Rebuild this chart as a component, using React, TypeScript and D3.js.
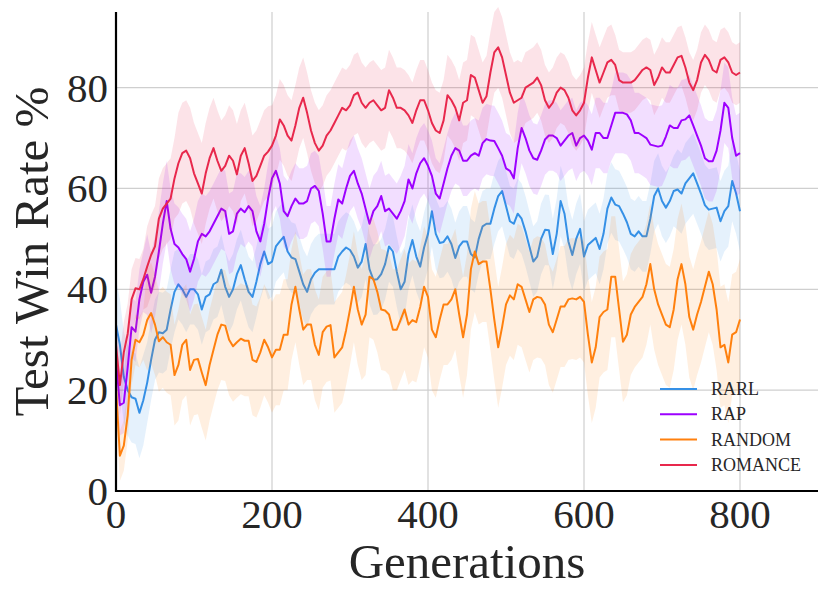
import React from 'react';
import * as d3 from 'd3';

// generations sampled every 5 steps, 0..800
const generations = d3.range(0, 801, 5);

const romance = [
  29, 21, 27.5, 31.2, 38, 40.2, 40, 42, 44.5, 46.8, 48.5,
  54, 56, 57, 58, 62, 65, 67, 67.5, 66, 63,
  61, 59, 63, 66, 68, 65.5, 63.5, 64.5, 66.5, 65.5,
  62.8, 66.5, 68, 65, 61.5, 62.5, 64.5, 66.5, 67.3, 68.5,
  70.5, 73.7,
  72.5, 70.5, 69.5, 72.5, 76, 78, 75, 71.5, 69, 67.5,
  68.5, 70.5, 71.5, 73, 74.5, 76, 75.5, 76.5, 78.5, 79,
  77, 76, 77, 77.5, 76.5, 75.5, 76, 79.5, 78, 76,
  76, 75.5, 74.5, 73, 75.5, 77.5, 77.5, 75.5, 73,
  71.5, 71, 73.5, 78.5, 77.5, 76, 73.5, 77, 77.5, 82.5,
  82, 79.5, 77, 78.3, 83, 87, 88, 86, 82.5, 79,
  77, 77.5, 78, 80, 80.5, 81, 82, 80.5, 77.5, 76,
  77, 79, 80, 79.5, 78, 75.5, 74.5, 75.5, 77,
  82, 86, 83.5, 81, 83, 85, 85.5, 84.5, 81.5, 81,
  81, 81, 81.5, 82.5, 83.5, 84, 83.5, 80.5, 82, 84,
  83, 83, 84.5, 86, 86.3, 84, 81, 79.5, 81.5, 85,
  86.5, 85.5, 83.5, 83, 85.5, 86, 85, 83, 82.5, 83,
];

const rap = [
  26, 17, 17.5, 24.5, 32.5, 31.6, 38, 41.5, 42.9, 39.3, 42.5, 47.5, 53,
  57.5, 52, 49, 48.3, 47, 46, 43.5, 46, 49.5, 51,
  50.5, 51.5, 53, 54.5, 56, 55.5, 51, 51.5, 55, 56,
  55.3, 56.5, 55.5, 51.5, 49.5, 53, 58, 62, 63.5, 61,
  55.5, 54.5, 56.5, 58, 57, 57, 57.5, 60, 60.5, 59.5,
  55, 49.5, 49.5, 54, 57.8, 57, 60, 62.5, 63.5, 61,
  59, 56, 53, 55.5, 56.5, 58.5, 55.5, 56, 55, 54,
  55.5, 57.5, 61.8, 60, 63, 65, 66, 64.5, 62.5,
  59, 58, 61, 64, 66.5, 68, 67.5, 65.5, 65.5, 66.5,
  67, 66.5, 69, 69.8, 69.5, 69.4, 68, 66.5, 64, 63.5,
  62, 68, 72, 70, 67.5, 66, 65.7, 67.5, 69.7, 70.5,
  70.5, 70, 68.5, 69.5, 70.5, 71, 68.5, 70, 70.5,
  69.5, 67.7, 71, 71, 70, 70, 72.5, 75, 75, 75,
  74.7, 73.5, 71, 71, 70.5, 70, 68.7, 68.5, 68.3, 68.5,
  70.3, 72.5, 72, 72, 73.5, 73.7, 74.5, 72.5, 70.5, 68.5,
  66, 65.4, 65.4, 67.5, 71.5, 77, 76, 70, 66.5, 67,
];

const rarl = [
  33, 29, 22.6, 20, 18.6, 18.3, 15.5, 18, 21.5, 26, 30, 31.5, 31.3, 32, 36,
  39.5, 41, 40, 38.5, 40, 40, 39, 36, 38.5, 39,
  41, 41.5, 43.9, 40.5, 38.5, 40, 43, 44.8, 42, 39.5,
  38.5, 41.5, 45, 47.5, 45, 45.5, 48.5, 49.5,
  50.4, 47.5, 46.3, 46, 43.5, 41, 39.5, 42, 43.3, 44,
  44, 44, 44, 44, 46.5, 47.5, 48.3, 47.8, 46.5, 44.3,
  45.5, 49, 44, 41.9, 42, 43, 45, 48.5, 47.5, 43.5,
  40, 41.5, 47, 49.8, 46.5, 44.5, 48.3, 51, 55.5,
  51, 49.2, 49.4, 50.5, 49, 46.2, 48.5, 49.5, 49.5, 47,
  46.3, 50, 52.5, 53, 53, 56, 58.5, 59.5, 56.5, 53.5,
  53, 55, 54, 51.5, 48.5, 45.5, 46.5, 50, 51.8, 51.7,
  47, 51, 57.5, 55, 49.5, 46.8, 50, 52, 46.5,
  48.8, 49.5, 50.2, 48, 51, 56, 58.2, 56.8, 56.5, 55,
  53.3, 51, 50.5, 51.5, 50.5, 50.5, 54, 58.5, 60, 57.5,
  56.2, 57.5, 59.5, 59.8, 59, 61, 62, 63, 61, 59,
  56.7, 55.8, 56, 56.2, 53.5, 55.5, 56.5, 61.5, 59, 55.5,
];

const random = [
  20.5, 7, 9, 15, 26, 30, 29.5, 31, 33.9, 35.3, 33, 29.7, 30.5, 29.5, 29,
  23, 25, 29, 30, 24, 26, 26.2, 23.5, 21, 25,
  28, 31, 33, 32.8, 30, 28.7, 29.5, 30.2, 29.8, 29.8,
  26, 25.6, 27.5, 30, 28.5, 26.5, 28, 28,
  31, 31, 37, 40.5, 36, 32, 33, 33, 29, 27,
  31.5, 32.6, 32.9, 26.5, 27.5, 28.5, 31.9, 36, 40.5, 36,
  33, 35, 42.5, 42, 39.5, 36, 35.8, 35, 32, 32,
  34, 36, 33, 33.9, 33.5, 36.5, 40.5, 38.5, 32,
  30.5, 34, 37, 37, 38, 40, 35, 30.5, 35, 44,
  47.5, 45, 45.5, 45.5, 40, 34, 28.5, 32.5, 37, 38.8,
  38, 41, 40.5, 38, 35.5, 38, 38.5, 38.3, 37, 33,
  31.5, 34, 36.6, 36.6, 38, 38.2, 38, 38.5, 37.5,
  31, 25.5, 28.5, 34.5, 35.5, 36, 42.5, 42.5, 36, 29.6,
  31, 35, 36.5, 37.5, 38.5, 41, 45, 40, 37, 35,
  33, 32.5, 36, 42, 45, 41, 34.5, 32, 35, 37.5,
  40.5, 43.5, 41, 36, 28.5, 29, 25.5, 31, 31.5, 34,
];

// band half-width per 40-generation block
const romanceSpread = [6, 8, 10, 10, 9, 8, 8, 8, 8, 8, 8, 8, 8, 7, 7, 7, 6, 6, 6, 6, 6];
const rapSpread = [6, 8, 8, 8, 7, 7, 7, 7, 7, 7, 7, 7, 7, 7, 7, 7, 8, 8, 8, 8, 8];
const rarlSpread = [9, 8, 7, 7, 7, 7, 7, 7, 7, 7, 7, 7, 7, 7, 7, 7, 7, 7, 8, 8, 8];
const randomSpread = [5, 10, 11, 11, 11, 11, 11, 11, 12, 12, 12, 12, 12, 12, 12, 12, 12, 12, 12, 12, 12];

const xTicks = [0, 200, 400, 600, 800];
const yTicks = [0, 20, 40, 60, 80];
const yGrid = [20, 40, 60, 80];

const series = [
  { name: 'RARL', values: rarl, spread: rarlSpread, color: '#3590e6' },
  { name: 'RAP', values: rap, spread: rapSpread, color: '#9d00ff' },
  { name: 'RANDOM', values: random, spread: randomSpread, color: '#ff800e' },
  { name: 'ROMANCE', values: romance, spread: romanceSpread, color: '#e8284c' },
];

const W = 830;
const H = 603;
const left = 116;
const right = 818;
const top = 12;
const bottom = 491;
const font = '"Liberation Serif", "Times New Roman", serif';
const textColor = '#262626';

export default function App() {
  const x = d3.scaleLinear().domain([0, 900]).range([left, right]);
  const y = d3.scaleLinear().domain([0, 95]).range([bottom, top]);

  const line = d3
    .line<number>()
    .x((_, i) => x(generations[i]))
    .y((d) => y(d));

  const area = (values: number[], spread: number[]) =>
    d3
      .area<number>()
      .x((_, i) => x(generations[i]))
      .y0((d, i) => y(Math.max(0, d - spread[Math.floor(generations[i] / 40)])))
      .y1((d, i) => y(d + spread[Math.floor(generations[i] / 40)]))(values) || '';

  return (
    <svg
      width={W}
      height={H}
      style={{ position: 'absolute', left: 0, top: 0, background: '#fff' }}
      fontFamily={font}
    >
      {/* grid */}
      {yGrid.map((t) => (
        <line key={'gy' + t} x1={left} x2={right} y1={y(t)} y2={y(t)} stroke="#cfcfcf" strokeWidth={1.2} />
      ))}
      {xTicks.filter((t) => t > 0).map((t) => (
        <line key={'gx' + t} x1={x(t)} x2={x(t)} y1={top} y2={bottom} stroke="#cfcfcf" strokeWidth={1.2} />
      ))}

      {/* bands and lines */}
      {series.map((s) => (
        <g key={s.name}>
          <path d={area(s.values, s.spread)} fill={s.color} fillOpacity={0.13} stroke="none" />
          <path d={line(s.values) || ''} fill="none" stroke={s.color} strokeWidth={2} strokeLinejoin="round" />
        </g>
      ))}

      {/* spines */}
      <line x1={left} x2={left} y1={top} y2={bottom + 1} stroke="#000" strokeWidth={2.2} />
      <line x1={left - 1} x2={right} y1={bottom} y2={bottom} stroke="#000" strokeWidth={2.2} />

      {/* tick labels */}
      {yTicks.map((t) => (
        <text
          key={'ty' + t}
          x={108}
          y={y(t)}
          textAnchor="end"
          dominantBaseline="central"
          fontSize={41}
          fill={textColor}
        >
          {t}
        </text>
      ))}
      {xTicks.map((t) => (
        <text key={'tx' + t} x={x(t)} y={528} textAnchor="middle" fontSize={41} fill={textColor}>
          {t}
        </text>
      ))}

      {/* axis labels */}
      <text x={(left + right) / 2} y={578} textAnchor="middle" fontSize={49} fill={textColor}>
        Generations
      </text>
      <text
        transform={`translate(48, ${(top + bottom) / 2}) rotate(-90)`}
        textAnchor="middle"
        fontSize={49}
        fill={textColor}
      >
        Test Win Rate %
      </text>

      {/* legend */}
      {series.map((s, i) => (
        <g key={'lg' + s.name} transform={`translate(660, ${389 + i * 25.3})`}>
          <line x1={0} x2={37} y1={0} y2={0} stroke={s.color} strokeWidth={2} />
          <text x={51} y={0} dominantBaseline="central" fontSize={18} fill={textColor}>
            {s.name}
          </text>
        </g>
      ))}
    </svg>
  );
}
